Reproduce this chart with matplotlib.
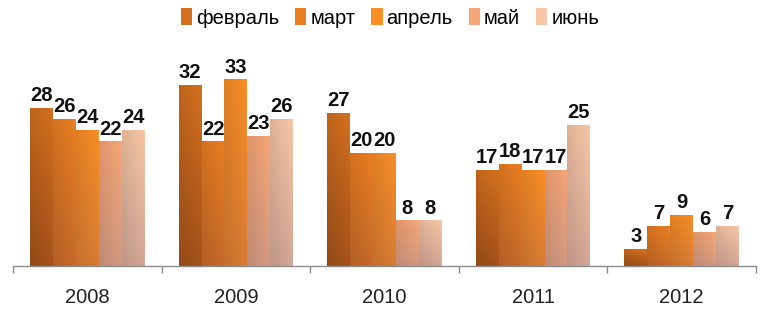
import numpy as np
import matplotlib
matplotlib.use("Agg")
import matplotlib.pyplot as plt
from matplotlib.colors import to_rgb
from matplotlib.patches import Patch

plt.rcParams['font.family'] = ['Liberation Sans', 'DejaVu Sans']

# ── данные ──────────────────────────────
years = ["2008", "2009", "2010", "2011", "2012"]
months = ["февраль", "март", "апрель", "май", "июнь"]
fevral = [28, 32, 27, 17, 3]
mart = [26, 22, 20, 18, 7]
aprel = [24, 33, 20, 17, 9]
mai = [22, 23, 8, 17, 6]
iyun = [24, 26, 8, 25, 7]
series = [fevral, mart, aprel, mai, iyun]

# верхний и нижний цвет градиента для каждого месяца
top_colors = ["#D4701F", "#EA7E22", "#F98E26", "#F7A676", "#F8C6A6"]
bot_colors = ["#A4521A", "#C66A2A", "#D97C34", "#D49A82", "#D4A796"]

fig = plt.figure(figsize=(7.7, 3.22), dpi=100)
ax = fig.add_axes([13 / 770, 56 / 322, 743 / 770, 203 / 322])

x = np.arange(len(years))
n = len(months)
group = 0.77
w = group / n

for i, vals in enumerate(series):
    c_top = np.array(to_rgb(top_colors[i]))
    c_bot = np.array(to_rgb(bot_colors[i]))
    t = np.linspace(0, 1, 64)[:, None]
    grad = (c_bot * (1 - t) + c_top * t)          # снизу вверх
    # лёгкое затемнение у левого края столбика
    side = np.linspace(0.9, 1.0, 16)
    img = grad[:, None, :] * side[None, :, None]
    for j, v in enumerate(vals):
        x0 = x[j] - group / 2 + i * w
        ax.imshow(img, extent=(x0, x0 + w, 0, v), origin="lower",
                  aspect="auto", interpolation="bilinear", zorder=2)
        ax.text(x0 + w / 2, v + 0.6, str(v), ha="center", va="bottom",
                fontsize=14.5, fontweight="bold", color="#111111", zorder=3)

ax.set_xlim(-0.5, len(years) - 0.5)
ax.set_ylim(0, 36)

for s in ["top", "left", "right"]:
    ax.spines[s].set_visible(False)
ax.spines["bottom"].set_color("#8C8C8C")
ax.spines["bottom"].set_linewidth(1.0)
ax.set_yticks([])
ax.set_xticks(x)
ax.set_xticklabels(years, fontsize=14.5, color="#222222")
ax.tick_params(axis="x", which="major", length=0, pad=16)
ax.set_xticks(np.arange(len(years) + 1) - 0.5, minor=True)
ax.tick_params(axis="x", which="minor", length=5, color="#8C8C8C", width=1)

handles = [Patch(facecolor=c, edgecolor="none") for c in top_colors]
fig.legend(handles, months, loc="center", bbox_to_anchor=(390 / 770, 1 - 18 / 322),
           ncol=5, frameon=False, fontsize=14.5, handlelength=0.55, handleheight=0.9,
           handletextpad=0.2, columnspacing=0.8)

fig.savefig("out.png", dpi=100)
